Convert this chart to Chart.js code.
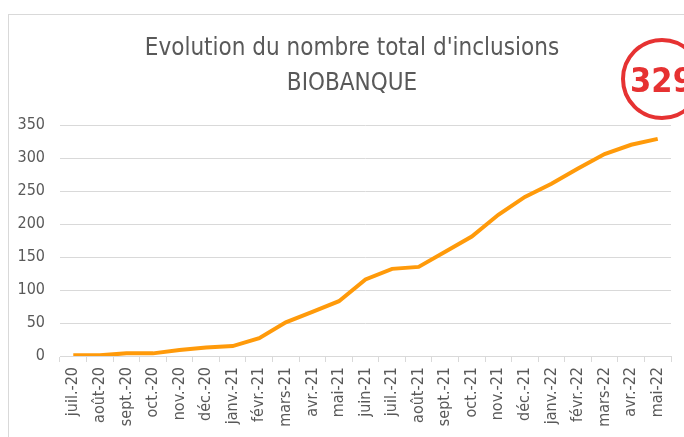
<!DOCTYPE html>
<html>
<head>
<meta charset="utf-8">
<script src="https://cdn.jsdelivr.net/npm/chart.js@4.4.1/dist/chart.umd.min.js"></script>
<style>
  html, body { margin: 0; padding: 0; background: #fff; }
  body { width: 684px; height: 437px; position: relative; overflow: hidden; }
  .frame { position: absolute; left: 8px; top: 14px; width: 700px; height: 440px; border: 1px solid #d9d9d9; box-sizing: border-box; }
  .wrap { position: absolute; left: 0; top: 0; width: 684px; height: 437px; }
  .title { position: absolute; left: 0; width: 704px; text-align: center; color: #595959;
    font-family: "Liberation Sans Narrow", "DejaVu Sans Condensed", sans-serif; font-size: 24px; line-height: 35px; top: 30px; }
  .badge { position: absolute; left: 621px; top: 38px; width: 82px; height: 82px; box-sizing: border-box;
    border: 4px solid #e63232; border-radius: 50%; }
  .badge span { position: absolute; left: 0; right: 0; top: 18px; text-align: center; color: #e63232;
    font-family: "Liberation Sans Narrow", "DejaVu Sans Condensed", sans-serif; font-weight: bold; font-size: 34px; line-height: 40px; }
</style>
</head>
<body>
<div class="frame"></div>
<div class="wrap"><canvas id="c" width="684" height="437"></canvas></div>
<div class="title">Evolution du nombre total d'inclusions<br>BIOBANQUE</div>
<div class="badge"><span>329</span></div>
<script>
const mois = ["juil.-20", "août-20", "sept.-20", "oct.-20", "nov.-20", "déc.-20",
  "janv.-21", "févr.-21", "mars-21", "avr.-21", "mai-21", "juin-21", "juil.-21",
  "août-21", "sept.-21", "oct.-21", "nov.-21", "déc.-21", "janv.-22", "févr.-22",
  "mars-22", "avr.-22", "mai-22"];
const inclusions = [1, 1, 4, 4, 9, 13, 15, 27, 51, 67, 83, 116, 132, 135, 158,
  181, 214, 241, 261, 284, 306, 320, 329];
const yTicks = [0, 50, 100, 150, 200, 250, 300, 350];

const GRIS = "#d9d9d9";
const TEXTE = "#595959";
const FONT = "'Liberation Sans Narrow', 'DejaVu Sans Condensed', sans-serif";

new Chart(document.getElementById("c"), {
  type: "line",
  data: {
    labels: mois,
    datasets: [{
      data: inclusions,
      borderColor: "#ff9a0a",
      borderWidth: 4,
      pointRadius: 0,
      tension: 0,
      fill: false
    }]
  },
  options: {
    responsive: false,
    animation: false,
    devicePixelRatio: 1,
    layout: { padding: { top: 125, left: 0, right: 13, bottom: 0 } },
    plugins: { legend: { display: false }, tooltip: { enabled: false } },
    scales: {
      x: {
        offset: true,
        grid: { offset: true, drawOnChartArea: false, drawTicks: true, tickLength: 6, color: GRIS },
        border: { display: true, color: GRIS, width: 1 },
        ticks: { minRotation: 90, maxRotation: 90, autoSkip: false, padding: 5, color: TEXTE,
          font: { family: FONT, size: 16 } },
        afterFit(scale) { scale.height = 81; }
      },
      y: {
        min: 0,
        max: 350,
        afterBuildTicks(scale) { scale.ticks = yTicks.map((v) => ({ value: v })); },
        grid: { drawTicks: false, color: GRIS, lineWidth: 1 },
        border: { display: false },
        ticks: { padding: 15, color: TEXTE, font: { family: FONT, size: 16 } },
        afterFit(scale) { scale.width = 60; }
      }
    }
  }
});
</script>
</body>
</html>
